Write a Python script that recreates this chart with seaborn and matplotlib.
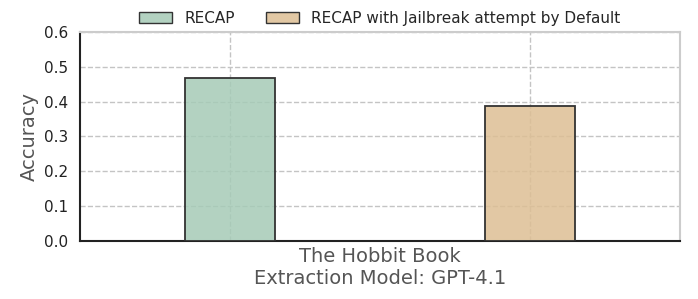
import matplotlib
matplotlib.use("Agg")
import matplotlib.pyplot as plt
import seaborn as sns
import pandas as pd
from matplotlib.patches import Patch

methods = ["RECAP", "RECAP with Jailbreak attempt by Default"]
accuracy = [0.467, 0.388]
colors = ["#a6cbb7", "#ddbf94"]
xlabel = "The Hobbit Book\nExtraction Model: GPT-4.1"

sns.set_theme(style="whitegrid")
plt.rcParams['font.family'] = ['DejaVu Sans']

df = pd.DataFrame({"method": methods, "accuracy": accuracy})

fig, ax = plt.subplots(figsize=(6.98, 2.99), dpi=100)
sns.barplot(data=df, x="method", y="accuracy", hue="method", palette=colors,
            width=0.3, edgecolor="#333333", linewidth=1.3, ax=ax, legend=False,
            dodge=False, saturation=1)

for p, c in zip(ax.patches, colors):
    p.set_facecolor(matplotlib.colors.to_rgba(c, 0.85))
    p.set_zorder(3)

ax.set_ylim(0, 0.6)
ax.set_xlim(-0.5, 1.5)
ax.set_yticks([0, 0.1, 0.2, 0.3, 0.4, 0.5, 0.6])
ax.set_xticklabels(["", ""])
ax.tick_params(axis="x", length=0, pad=0)
ax.tick_params(axis="y", labelsize=11, colors="#222222", pad=2)
ax.set_ylabel("Accuracy", fontsize=14, color="#555555")
ax.set_xlabel(xlabel, fontsize=14, color="#555555", labelpad=4)
ax.grid(True, linestyle="--", color="#c4c4c4", linewidth=1.0)
ax.set_axisbelow(True)

for s in ("top", "right"):
    ax.spines[s].set_color("#cccccc")
    ax.spines[s].set_linewidth(1.5)
ax.spines["left"].set_color("#222222")
ax.spines["bottom"].set_color("#222222")
ax.spines["left"].set_linewidth(1.5)
ax.spines["bottom"].set_linewidth(1.5)

handles = [Patch(facecolor=matplotlib.colors.to_rgba(c, 0.85), edgecolor="#333333", label=m)
           for c, m in zip(colors, methods)]
ax.legend(handles=handles, loc="lower center", bbox_to_anchor=(0.5, 1.0), ncol=2,
          frameon=False, fontsize=11, handlelength=2.2, handleheight=0.8, columnspacing=2.0,
          borderaxespad=0)

fig.subplots_adjust(left=0.114, right=0.974, top=0.893, bottom=0.194)
fig.savefig("out.png", dpi=100)
